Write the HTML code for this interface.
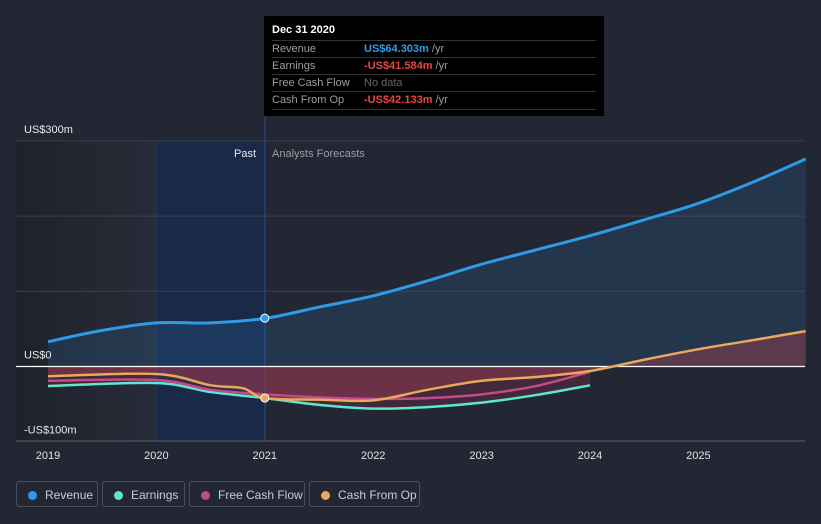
<!DOCTYPE html>
<html><head><meta charset="utf-8"><style>
body{margin:0;background:#222733;font-family:"Liberation Sans",sans-serif;}
#wrap{position:relative;width:821px;height:524px;overflow:hidden;background:#222733;}
.leg{position:absolute;top:481px;height:26px;border:1px solid #4a505c;border-radius:3px;color:#c8ccd4;font-size:12px;line-height:26px;box-sizing:border-box;padding-left:28px}
.leg i{position:absolute;left:11px;top:9px;width:9px;height:9px;border-radius:50%}
#tip{position:absolute;left:264px;top:16px;width:340px;height:100px;background:#000;font-size:11px;color:#9a9ea6}
#tip .r{position:absolute;left:8px;width:324px;border-top:1px solid #333;height:17px;line-height:17px}
#tip b{position:absolute;left:92px;font-weight:bold}
</style></head><body>
<div id="wrap">
<svg id="svg" width="821" height="524" style="position:absolute;left:0;top:0"></svg>
<div id="tip">
<div style="position:absolute;left:8px;top:8px;color:#fff;font-weight:bold;font-size:11px">Dec 31 2020</div>
<div class="r" style="top:24px">Revenue<b style="color:#2d9be6">US$64.303m <span style="color:#9a9ea6;font-weight:normal">/yr</span></b></div>
<div class="r" style="top:41px">Earnings<b style="color:#e84545">-US$41.584m <span style="color:#9a9ea6;font-weight:normal">/yr</span></b></div>
<div class="r" style="top:58px">Free Cash Flow<b style="color:#666;font-weight:normal">No data</b></div>
<div class="r" style="top:75px;border-bottom:1px solid #333">Cash From Op<b style="color:#e84545">-US$42.133m <span style="color:#9a9ea6;font-weight:normal">/yr</span></b></div>
</div>
<div class="leg" style="left:16px;width:82px"><i style="background:#2d9be6"></i>Revenue</div>
<div class="leg" style="left:102px;width:83px"><i style="background:#5ee6d0"></i>Earnings</div>
<div class="leg" style="left:189px;width:116px"><i style="background:#c44a8a"></i>Free Cash Flow</div>
<div class="leg" style="left:309px;width:111px"><i style="background:#e8a95a"></i>Cash From Op</div>
</div>
<script>
const years=[2019,2020,2021,2022,2023,2024,2025];
const yTicks=[300,0,-100];
const yTickLabels=["US$300m","US$0","-US$100m"];
const revX=[2019,2019.5,2020,2020.5,2021,2021.5,2022,2022.5,2023,2023.5,2024,2024.5,2025,2025.5,2025.99];
const revY=[33,48,58,58,64,79,94,114,136,155,174,195,217,245,276];
const earnX=[2019,2020,2020.5,2021,2021.5,2022,2022.5,2023,2023.5,2024];
const earnY=[-26,-22,-34,-42,-51,-56,-54,-48,-38,-25];
const fcfX=[2019,2020,2020.5,2021,2021.5,2022,2022.5,2023,2023.5,2024];
const fcfY=[-19,-18,-31,-37,-41,-43,-42,-37,-26,-7];
const cfoX=[2019,2020,2020.5,2020.8,2021,2021.5,2022,2022.5,2023,2023.5,2024,2024.5,2025,2025.5,2025.99];
const cfoY=[-13,-10,-25,-29,-42,-44,-45,-31,-19,-14,-6,9,23,35,47];
const X=t=>48+(t-2019)*108.4;
const Y=v=>366.5-v*0.752;
const NS="http://www.w3.org/2000/svg";
const svg=document.getElementById('svg');
function mk(tag,at,name){const e=document.createElementNS(NS,tag);for(const k in at)e.setAttribute(k,at[k]);


svg.appendChild(e);return e;}
function pathD(xs,ys){const P=xs.map((x,i)=>[X(x),Y(ys[i])]);let d='M'+P[0][0]+','+P[0][1];
for(let i=0;i<P.length-1;i++){const p0=P[Math.max(0,i-1)],p1=P[i],p2=P[i+1],p3=P[Math.min(P.length-1,i+2)];
const c1x=p1[0]+(p2[0]-p0[0])/6,c1y=p1[1]+(p2[1]-p0[1])/6,c2x=p2[0]-(p3[0]-p1[0])/6,c2y=p2[1]-(p3[1]-p1[1])/6;
d+=' C'+c1x+','+c1y+' '+c2x+','+c2y+' '+p2[0]+','+p2[1];}return d;}
const defs=mk('defs',{},'defs');
defs.innerHTML='<linearGradient id="pg" x1="0" x2="1"><stop offset="0" stop-color="#1e222a"/><stop offset="1" stop-color="#262c38"/></linearGradient>';
mk('rect',{x:16,y:141,width:140,height:300,fill:'url(#pg)'},'past-shade');
mk('rect',{x:156,y:141,width:109,height:300,fill:'#182a48'},'highlight-band');
mk('line',{x1:265,y1:16,x2:265,y2:441,stroke:'#2a4f8a','stroke-width':1},'cursor-line');
mk('line',{x1:156,y1:141,x2:156,y2:441,stroke:'#2a3a5a'},'band-edge');
[300,200,100].forEach((v,i)=>mk('line',{x1:16,x2:805,y1:Y(v),y2:Y(v),stroke:'#3a404c'},'gridline-'+i));
mk('path',{d:pathD(revX,revY)+' L'+X(revX[revX.length-1])+','+Y(0)+' L'+X(revX[0])+','+Y(0)+'Z',fill:'#2d6fa8','fill-opacity':0.22},'revenue-area');
mk('path',{d:pathD(cfoX,cfoY)+' L'+X(cfoX[cfoX.length-1])+','+Y(0)+' L'+X(cfoX[0])+','+Y(0)+'Z',fill:'#a04050','fill-opacity':0.45},'negative-area');
mk('path',{d:pathD(earnX,earnY)+' L'+X(earnX[earnX.length-1])+','+Y(0)+' L'+X(earnX[0])+','+Y(0)+'Z',fill:'#a03050','fill-opacity':0.25},'earnings-area');
mk('line',{x1:16,x2:805,y1:Y(0),y2:Y(0),stroke:'#ffffff','stroke-width':1.2},'zero-line');
mk('line',{x1:16,x2:805,y1:441,y2:441,stroke:'#5a606c'},'x-axis');
mk('path',{d:pathD(earnX,earnY),fill:'none',stroke:'#5ee6d0','stroke-width':2.5},'earnings-line');
mk('path',{d:pathD(fcfX,fcfY),fill:'none',stroke:'#c44a8a','stroke-width':2.5},'fcf-line');
mk('path',{d:pathD(cfoX,cfoY),fill:'none',stroke:'#e8a95a','stroke-width':2.5},'cfo-line');
mk('path',{d:pathD(revX,revY),fill:'none',stroke:'#2d9be6','stroke-width':3},'revenue-line');
mk('circle',{cx:X(2021),cy:Y(64.3),r:4,fill:'#2d9be6',stroke:'#fff','stroke-width':1},'revenue-marker');
mk('circle',{cx:X(2021),cy:Y(-42),r:4,fill:'#e8a95a',stroke:'#fff','stroke-width':1},'cfo-marker');
years.forEach(y=>{const t=mk('text',{x:X(y),y:459,fill:'#e0e3e8','font-size':11,'text-anchor':'middle'},'x-tick-'+y);t.textContent=y;});
yTicks.forEach((v,i)=>{const t=mk('text',{x:24,y:Y(v)-8,fill:'#e8eaee','font-size':11},'y-tick-label');t.textContent=yTickLabels[i];});
let t=mk('text',{x:256,y:157,fill:'#e8eaee','font-size':11,'text-anchor':'end'},'past-label');t.textContent='Past';
t=mk('text',{x:272,y:157,fill:'#9a9ea6','font-size':11},'forecast-label');t.textContent='Analysts Forecasts';
</script>
</body></html>
